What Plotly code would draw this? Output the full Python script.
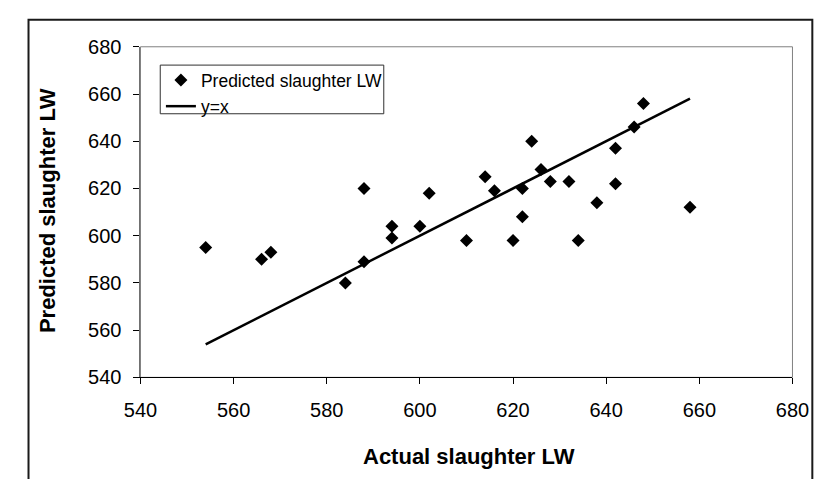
import plotly.graph_objects as go

actual = [554, 566, 568, 584, 588, 588, 594, 594, 600, 602, 610, 614, 616, 620, 622,
          622, 624, 626, 628, 632, 634, 638, 642, 642, 646, 648, 658]
predicted = [595, 590, 593, 580, 589, 620, 604, 599, 604, 618, 598, 625, 619, 598, 620,
             608, 640, 628, 623, 623, 598, 614, 637, 622, 646, 656, 612]
line_x = [554, 658]
line_y = [554, 658]
ticks = [540, 560, 580, 600, 620, 640, 660, 680]

W, H = 837, 479
px_l, px_r, px_t, px_b = 128.7, 808.3, 37.5, 384.0

fig = go.Figure()
fig.add_trace(go.Scatter(x=actual, y=predicted, mode="markers", name="Predicted slaughter LW",
                         legendgroup="a",
                         marker=dict(symbol="diamond", size=10, color="black")))
fig.add_trace(go.Scatter(x=line_x, y=line_y, mode="lines", name="y=x", legendgroup="b",
                         line=dict(color="black", width=2.5)))

font = "Liberation Sans, Arial, sans-serif"
fig.update_layout(
    width=W, height=H,
    margin=dict(l=0, r=0, t=0, b=0),
    paper_bgcolor="white", plot_bgcolor="white",
    font=dict(family=font, color="black"),
    showlegend=True,
    legend=dict(x=150 / W, y=1 - 53.5 / H, xanchor="left", yanchor="top",
                bgcolor="rgba(0,0,0,0)", borderwidth=0,
                font=dict(size=17.5, family=font, color="black"),
                tracegroupgap=0.5, traceorder="grouped"),
    xaxis=dict(domain=[px_l / W, px_r / W], range=[540, 680], tickvals=ticks,
               showgrid=False, zeroline=False, showline=True, linecolor="black", linewidth=1,
               ticks="outside", ticklen=6, tickcolor="black", tickfont=dict(size=20),
               ticklabelstandoff=9),
    yaxis=dict(domain=[1 - px_b / H, 1 - px_t / H], range=[540, 680], tickvals=ticks,
               showgrid=False, zeroline=False, showline=True, linecolor="#707070", linewidth=1,
               ticks="outside", ticklen=6, tickcolor="black", tickfont=dict(size=20),
               ticklabelstandoff=8),
    shapes=[
        dict(type="rect", xref="paper", yref="paper", x0=px_l / W, x1=px_r / W,
             y0=1 - px_b / H, y1=1 - px_t / H, line=dict(color="#808080", width=1), layer="below"),
        dict(type="rect", xref="paper", yref="paper", x0=12 / W, x1=829 / W,
             y0=-0.1, y1=1 - 9.3 / H, line=dict(color="#1a1a1a", width=2), layer="below"),
        dict(type="rect", xref="paper", yref="paper", x0=149.3 / W, x1=382.3 / W,
             y0=1 - 107.7 / H, y1=1 - 56.7 / H, line=dict(color="#303030", width=1),
             fillcolor="white", layer="above"),
    ],
    annotations=[
        dict(text="<b>Actual slaughter LW</b>", xref="paper", yref="paper",
             x=471 / W, y=1 - 466.7 / H, showarrow=False, font=dict(size=22),
             xanchor="center", yanchor="middle"),
        dict(text="<b>Predicted slaughter LW</b>", xref="paper", yref="paper",
             x=32 / W, y=1 - 209 / H, showarrow=False, font=dict(size=22), textangle=-90,
             xanchor="center", yanchor="middle"),
    ],
)
fig.write_html("out.html")
